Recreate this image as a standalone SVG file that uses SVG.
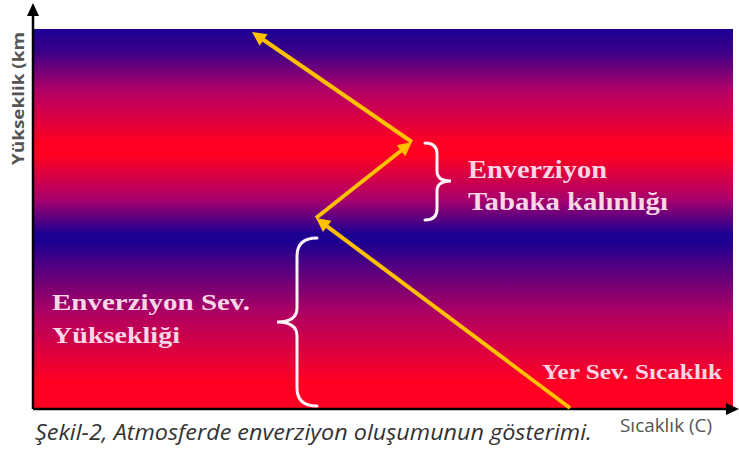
<svg xmlns="http://www.w3.org/2000/svg" width="739" height="457" viewBox="0 0 739 457">
<defs>
<linearGradient id="bg" x1="0" y1="29" x2="0" y2="408" gradientUnits="userSpaceOnUse">
<stop offset="0" stop-color="#1c0092"/>
<stop offset="0.06" stop-color="#3a0088"/>
<stop offset="0.16" stop-color="#b00068"/>
<stop offset="0.30" stop-color="#ff0022"/>
<stop offset="0.335" stop-color="#ff0022"/>
<stop offset="0.45" stop-color="#a8006c"/>
<stop offset="0.54" stop-color="#1c0092"/>
<stop offset="0.56" stop-color="#1c0092"/>
<stop offset="0.75" stop-color="#b00062"/>
<stop offset="0.93" stop-color="#ff0022"/>
<stop offset="1" stop-color="#ff0022"/>
</linearGradient>
<marker id="ya" markerUnits="userSpaceOnUse" markerWidth="20" markerHeight="20" refX="6" refY="0" viewBox="-2 -10 20 20" orient="auto">
<path d="M0,-7 L14,0 L0,7 z" fill="#ffc000"/>
</marker>
<marker id="ka" markerUnits="userSpaceOnUse" markerWidth="20" markerHeight="20" refX="4" refY="0" viewBox="-2 -10 20 20" orient="auto">
<path d="M0,-6 L13,0 L0,6 z" fill="#000"/>
</marker>
</defs>
<style>
.lbl{font-family:"Liberation Serif","Times New Roman",serif;font-weight:bold;fill:#f8d6e6}
.ax{stroke:#000;stroke-width:2.5;fill:none}
.arr{stroke:#ffc000;stroke-width:4;fill:none;marker-end:url(#ya)}
.br{stroke:#fff2f6;stroke-width:3;fill:none;stroke-linecap:round}
.axl{font-family:"Open Sans","Noto Sans",sans-serif;fill:#555}
</style>
<rect width="739" height="457" fill="#fff"/>
<g id="background">
<rect x="33" y="29" width="700" height="379" fill="url(#bg)"/>
</g>
<g id="axes">
<line class="ax" x1="33" y1="409" x2="33" y2="12" marker-end="url(#ka)"/>
<line class="ax" x1="33" y1="409" x2="730" y2="409" marker-end="url(#ka)"/>
</g>
<g id="connectors">
<line class="arr" x1="570" y1="408" x2="322.4" y2="222.8"/>
<line class="arr" x1="316" y1="218" x2="405.7" y2="147"/>
<line class="arr" x1="412" y1="142" x2="258.6" y2="36.5"/>
</g>
<g id="brace-tabaka">
<path class="br" d="M425,143 Q437,143 437,154 L437,171 Q437,181 451,181 Q437,181 437,191 L437,209 Q437,220 425,220"/>
</g>
<g id="brace-seviye">
<path class="br" d="M317,238 Q297,238 297,256 L297,308 Q297,322 277,322 Q297,322 297,336 L297,388 Q297,406 317,406"/>
</g>
<g id="label-tabaka">
<text class="lbl" x="468" y="178" font-size="25" textLength="139" lengthAdjust="spacingAndGlyphs">Enverziyon</text>
<text class="lbl" x="468" y="210" font-size="25" textLength="200" lengthAdjust="spacingAndGlyphs">Tabaka kalınlığı</text>
</g>
<g id="label-seviye">
<text class="lbl" x="52" y="310" font-size="24" textLength="198" lengthAdjust="spacingAndGlyphs">Enverziyon Sev.</text>
<text class="lbl" x="52" y="343" font-size="24" textLength="128" lengthAdjust="spacingAndGlyphs">Yüksekliği</text>
</g>
<g id="label-yer">
<text class="lbl" x="542" y="379" font-size="21" textLength="180" lengthAdjust="spacingAndGlyphs">Yer Sev. Sıcaklık</text>
</g>
<g id="axis-labels">
<text class="axl" transform="translate(24,165) rotate(-90)" font-size="16" font-weight="bold" textLength="133" lengthAdjust="spacingAndGlyphs">Yükseklik (km</text>
<text class="axl" x="620" y="432" font-size="18" textLength="92" lengthAdjust="spacingAndGlyphs">Sıcaklık (C)</text>
</g>
<g id="caption">
<text x="35" y="440" font-family="'Open Sans','Noto Sans',sans-serif" font-style="italic" font-size="22" fill="#333" textLength="557" lengthAdjust="spacingAndGlyphs">Şekil-2, Atmosferde enverziyon oluşumunun gösterimi.</text>
</g>
</svg>
